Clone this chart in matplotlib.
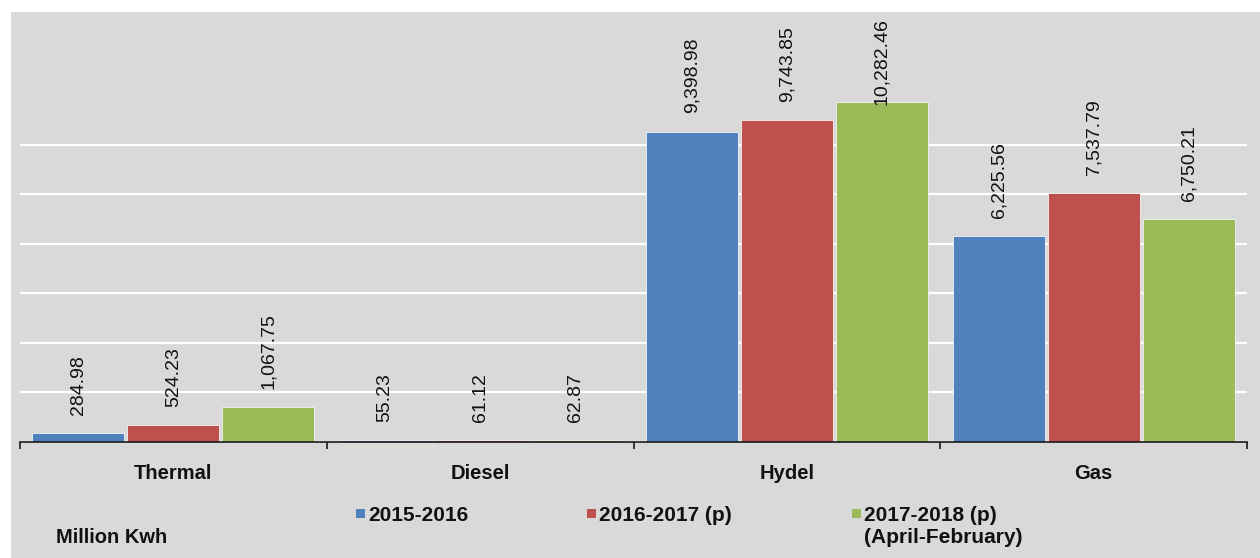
import matplotlib
matplotlib.use("Agg")
import matplotlib.pyplot as plt
from matplotlib.patches import Rectangle
from matplotlib.ticker import MultipleLocator
import numpy as np

plt.rcParams['font.family'] = ['Liberation Sans', 'DejaVu Sans']

# ---- data ----
categories = ["Thermal", "Diesel", "Hydel", "Gas"]
series_names = ["2015-2016", "2016-2017 (p)", "2017-2018 (p)\n(April-February)"]
values_2015_16 = [284.98, 55.23, 9398.98, 6225.56]
values_2016_17 = [524.23, 61.12, 9743.85, 7537.79]
values_2017_18 = [1067.75, 62.87, 10282.46, 6750.21]
unit_label = "Million Kwh"

series_values = [values_2015_16, values_2016_17, values_2017_18]
colors = ["#4f81bd", "#c0504d", "#9bbb59"]

W, H = 1260, 558
fig = plt.figure(figsize=(W / 100, H / 100), dpi=100)
fig.patch.set_facecolor("white")
# chart-area background
fig.patches.append(Rectangle((11 / W, 0), 1 - 11 / W, (H - 12) / H,
                             transform=fig.transFigure, facecolor="#d9d9d9",
                             edgecolor="none", zorder=-5))

ax_left, ax_right = 20 / W, 1247 / W
ax_bottom, ax_top = (H - 442) / H, (H - 97) / H
ax = fig.add_axes([ax_left, ax_bottom, ax_right - ax_left, ax_top - ax_bottom])
ax.set_facecolor("none")

x = np.arange(len(categories))
spacing = 0.31
width = 0.30
texts = []
for i, (vals, col) in enumerate(zip(series_values, colors)):
    pos = x + (i - 1) * spacing
    ax.bar(pos, vals, width=width, color=col, edgecolor="#f4f4f4", linewidth=0.6, zorder=3)
    for px, v in zip(pos, vals):
        t = ax.annotate(f"{v:,.2f}", xy=(px, v), xytext=(0, 13), textcoords="offset points",
                        rotation=90, ha="center", va="bottom", fontsize=14,
                        color="#111111", annotation_clip=False, zorder=5)
        texts.append(t)

ax.set_xlim(-0.5, len(categories) - 0.5)
ax.set_ylim(0, 10445)
ax.yaxis.set_major_locator(MultipleLocator(1500))
ax.grid(axis="y", color="white", linewidth=1.6, zorder=1)
ax.set_axisbelow(True)
ax.tick_params(axis="y", left=False, labelleft=False)

for s in ["left", "right", "top"]:
    ax.spines[s].set_visible(False)
ax.spines["bottom"].set_color("#1a1a1a")
ax.spines["bottom"].set_linewidth(1.2)
ax.spines["bottom"].set_zorder(4)

ax.set_xticks(np.arange(len(categories) + 1) - 0.5)
ax.set_xticklabels([])
ax.tick_params(axis="x", which="major", direction="out", length=5, width=1.2, color="#1a1a1a")
ax.set_xticks(x, minor=True)
ax.set_xticklabels(categories, minor=True, fontsize=14.5, fontweight="bold", color="#111111")
ax.tick_params(axis="x", which="minor", length=0, pad=16)

# legend (manual, first-line aligned)
legend_marker_x = [356, 587, 852]
marker_size = 9
line_step = 22
for name, col, mx in zip(series_names, colors, legend_marker_x):
    fig.patches.append(Rectangle((mx / W, (H - 518) / H), marker_size / W, marker_size / H,
                                 transform=fig.transFigure, facecolor=col, edgecolor="none",
                                 zorder=2))
    for k, line in enumerate(name.split("\n")):
        fig.text((mx + 12) / W, (H - 521 - k * line_step) / H, line, ha="left", va="baseline",
                 fontsize=15, fontweight="bold", color="#111111")

fig.text(56 / W, (H - 543) / H, unit_label, ha="left", va="baseline",
         fontsize=14.5, fontweight="bold", color="#111111")

# keep value labels inside the chart area
fig.canvas.draw()
r = fig.canvas.get_renderer()
lim = fig.bbox.height - 18
for t in texts:
    bb = t.get_window_extent(r)
    if bb.y1 > lim:
        dy = (bb.y1 - lim) * 72 / fig.dpi
        x0, y0 = t.xyann
        t.xyann = (x0, y0 - dy)

fig.savefig("out.png", dpi=100, facecolor=fig.get_facecolor())
